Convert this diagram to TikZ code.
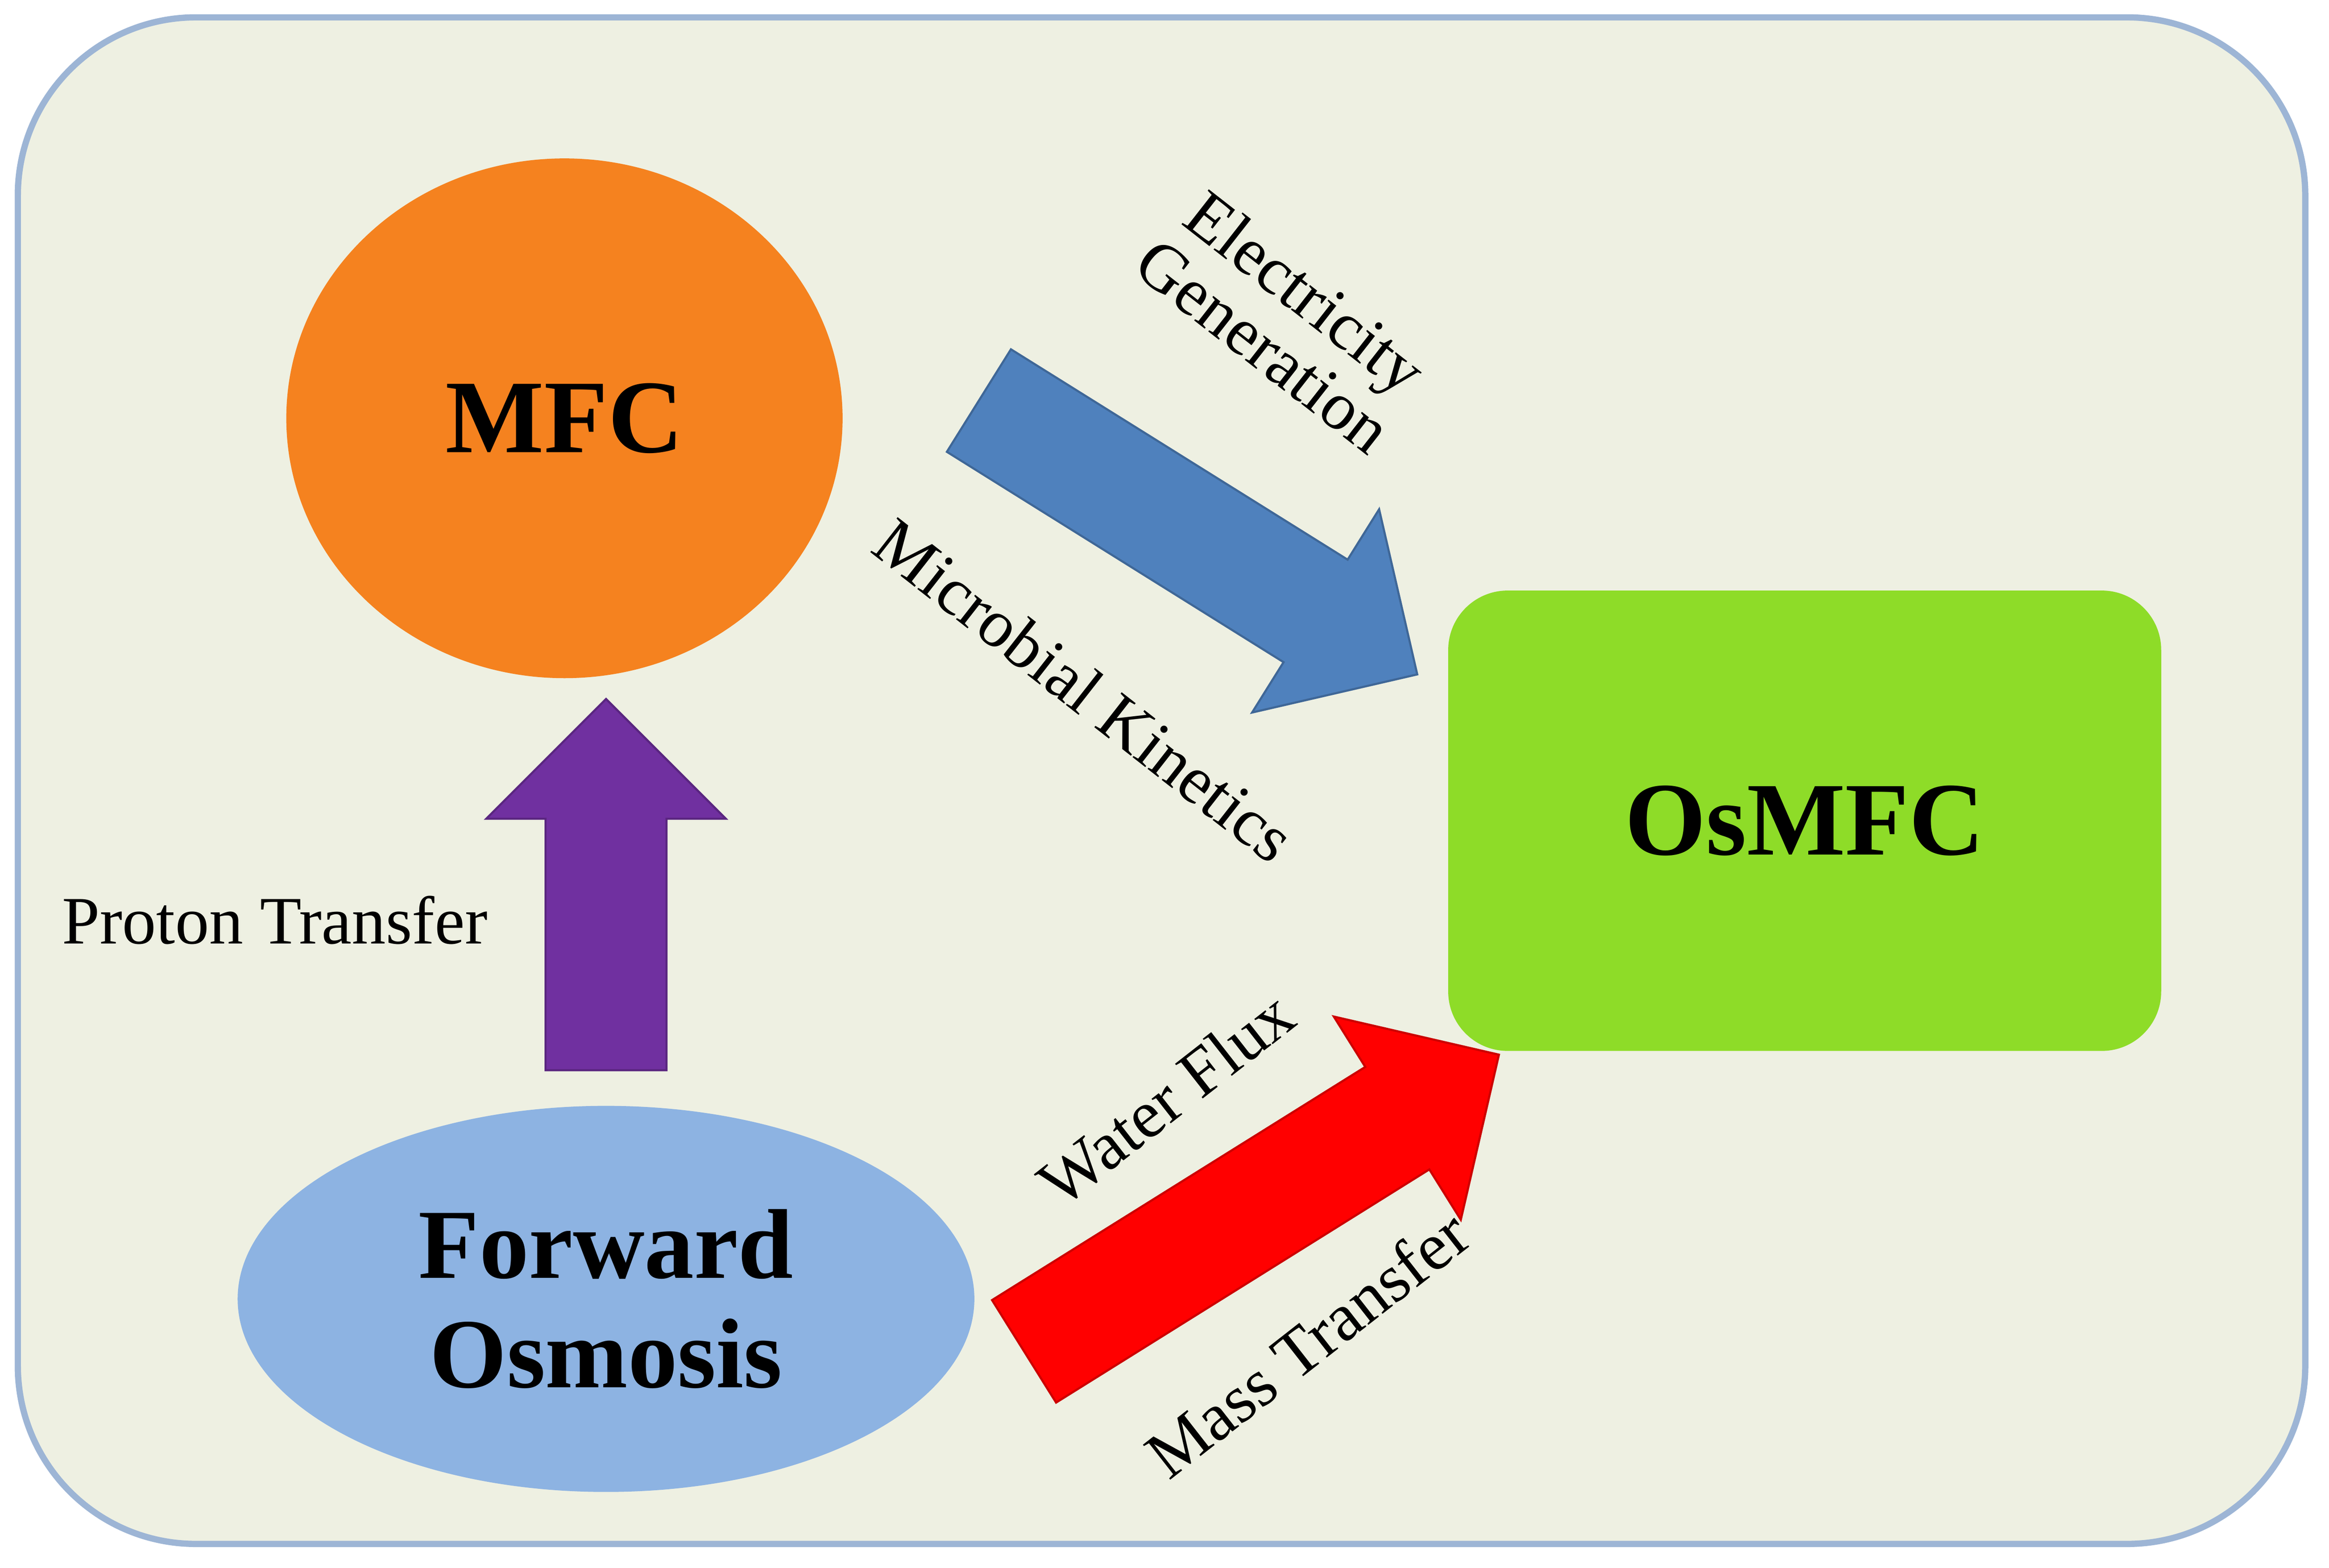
\documentclass[tikz,border=0pt]{standalone}
\usepackage{fontspec}
\setmainfont{Liberation Serif}
\usetikzlibrary{shapes.geometric,shapes.arrows}
\definecolor{bgbeige}{HTML}{EEF0E2}
\definecolor{bgline}{HTML}{9DB5D5}
\definecolor{mfcorange}{HTML}{F5821F}
\definecolor{osgreen}{HTML}{8EDC28}
\definecolor{foblue}{HTML}{8DB3E2}
\definecolor{arrblue}{HTML}{4F81BD}
\definecolor{arrpurple}{HTML}{7030A0}
\tikzset{
  bigarrow/.style={single arrow, minimum width=1.6cm, single arrow head extend=0.4cm,
    single arrow head indent=0cm, inner xsep=0pt, inner ysep=0.4cm, draw=#1!80!black, fill=#1, anchor=tip},
  lbl/.style={font=\fontsize{13}{13}\selectfont, align=center},
  title/.style={font=\bfseries\fontsize{20}{22}\selectfont, align=center}
}
\begin{document}
\begin{tikzpicture}
    \useasboundingbox (0, 0) rectangle (15.68, 10.557);
    % background
    \draw [line width=1.2pt, color=bgline, fill=bgbeige, rounded corners=1.2cm] (0.12, 0.16) rectangle (15.52, 10.44);
    %
    \node (mfc) [circle, fill=mfcorange, minimum size=3.5cm, inner sep=0pt, xscale=1.07] at (3.8, 7.74) {};
    \node at (mfc.center) [title] {MFC};
    %
    \node (osmfc) [rounded corners=0.4cm, fill=osgreen, minimum width=4.8cm, minimum height=3.1cm, title] at (12.15, 5.03) {OsMFC};
    %
    \node (fo) [ellipse, fill=foblue, minimum width=4.96cm, minimum height=2.6cm, title, font=\bfseries\fontsize{19}{21}\selectfont] at (4.08, 1.81) {Forward\\Osmosis};
    %
    \node (proton) [bigarrow=arrpurple, minimum height=2.5cm, rotate=90] at (4.08, 5.86) {};
    \node (elec) [bigarrow=arrblue, minimum height=3.48cm, rotate=-32] at (9.55, 6.01) {};
    \node (water) [bigarrow=red, minimum height=3.77cm, rotate=32] at (10.1, 3.46) {};
    %
    \node [lbl] at (1.85, 4.36) {Proton Transfer};
    \node [lbl, rotate=-38] at (8.65, 8.41) {Electricity\\Generation};
    \node [lbl, rotate=-38] at (7.3, 5.91) {Microbial Kinetics};
    \node [lbl, rotate=38] at (7.85, 3.16) {Water Flux};
    \node [lbl, rotate=38] at (8.8, 1.51) {Mass Transfer};
\end{tikzpicture}
\end{document}
